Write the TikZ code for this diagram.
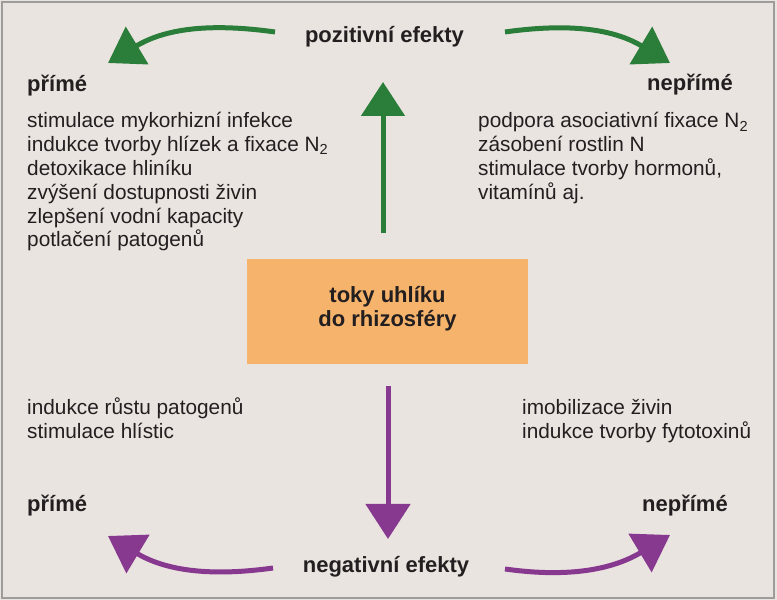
\documentclass[tikz,border=0pt]{standalone}
\usepackage{fontspec}
\setmainfont{Liberation Sans}
\usetikzlibrary{arrows.meta}
\definecolor{bgcol}{HTML}{EAE4E0}
\definecolor{framecol}{HTML}{9C9C9C}
\definecolor{boxcol}{HTML}{F6B36C}
\definecolor{zelena}{HTML}{2B7D3A}
\definecolor{fialova}{HTML}{87398F}
\definecolor{textcol}{HTML}{231F20}
\tikzset{
  body/.style={anchor=base west, inner sep=0pt, text=textcol, font=\fontsize{20.8}{23.8}\selectfont},
  head/.style={anchor=base west, inner sep=0pt, text=textcol, font=\fontsize{22}{24}\selectfont\bfseries},
  garrow/.style={draw=zelena, line width=5pt, -{Triangle[length=34pt,width=43pt]}},
  parrow/.style={draw=fialova, line width=5pt, -{Triangle[length=35pt,width=44pt]}},
}
\begin{document}
\begin{tikzpicture}[x=1pt,y=1pt]
  \fill[bgcol] (0,0) rectangle (777,600);
  \draw[framecol, line width=1.5pt] (2,2) rectangle (774,598);
  \useasboundingbox (0,0) rectangle (777,600);
  % box in the middle
  \node[fill=boxcol, minimum width=281pt, minimum height=105pt, inner sep=0pt] (uhlik) at (387.5,288.5) {};
  \node[head, anchor=base] (uhlik1) at (387.5,297) {toky uhlíku};
  \node[head, anchor=base] (uhlik2) at (387.5,273) {do rhizosféry};
  % positive effects
  \node[head, anchor=base] (poz) at (384.5,557) {pozitivní efekty};
  \node[head] (pp) at (27,508) {přímé};
  \node[head] (pn) at (647,509) {nepřímé};
  \foreach \t [count=\i] in {stimulace mykorhizní infekce, indukce tvorby hlízek a fixace N\textsubscript{2}, detoxikace hliníku, zvýšení dostupnosti živin, zlepšení vodní kapacity, potlačení patogenů}
    \node[body] (pp\i) at (27,{495.8-23.8*\i}) {\t};
  \foreach \t [count=\i] in {podpora asociativní fixace N\textsubscript{2}, zásobení rostlin N, {stimulace tvorby hormonů,}, vitamínů aj.}
    \node[body] (pn\i) at (478,{495.8-23.8*\i}) {\t};
  \coordinate (gtip) at (383,518);
  \coordinate (gl) at (108,537);
  \coordinate (gr) at (670,537);
  \draw[garrow, shorten <=26pt] (uhlik.north -| gtip) -- (gtip);
  \draw[garrow] ([shift={(-109.5,11)}]poz.base) to[out=172,in=31] (gl);
  \draw[garrow] ([shift={(120.5,11)}]poz.base) to[out=8,in=149] (gr);
  % negative effects
  \node[head, anchor=base] (neg) at (386,27) {negativní efekty};
  \node[head] (np) at (27,88) {přímé};
  \node[head] (nn) at (642,88) {nepřímé};
  \foreach \t [count=\i] in {indukce růstu patogenů, stimulace hlístic}
    \node[body] (np\i) at (27,{208.8-23.8*\i}) {\t};
  \foreach \t [count=\i] in {imobilizace živin, indukce tvorby fytotoxinů}
    \node[body] (nn\i) at (522,{208.8-23.8*\i}) {\t};
  \coordinate (ptip) at (388,61);
  \coordinate (pl) at (108,64);
  \coordinate (pr) at (670,65);
  \draw[parrow, shorten <=22pt] (uhlik.south -| ptip) -- (ptip);
  \draw[parrow] ([shift={(-113,5)}]neg.base) to[out=188,in=-31] (pl);
  \draw[parrow] ([shift={(119,4)}]neg.base) to[out=-8,in=211] (pr);
\end{tikzpicture}
\end{document}
